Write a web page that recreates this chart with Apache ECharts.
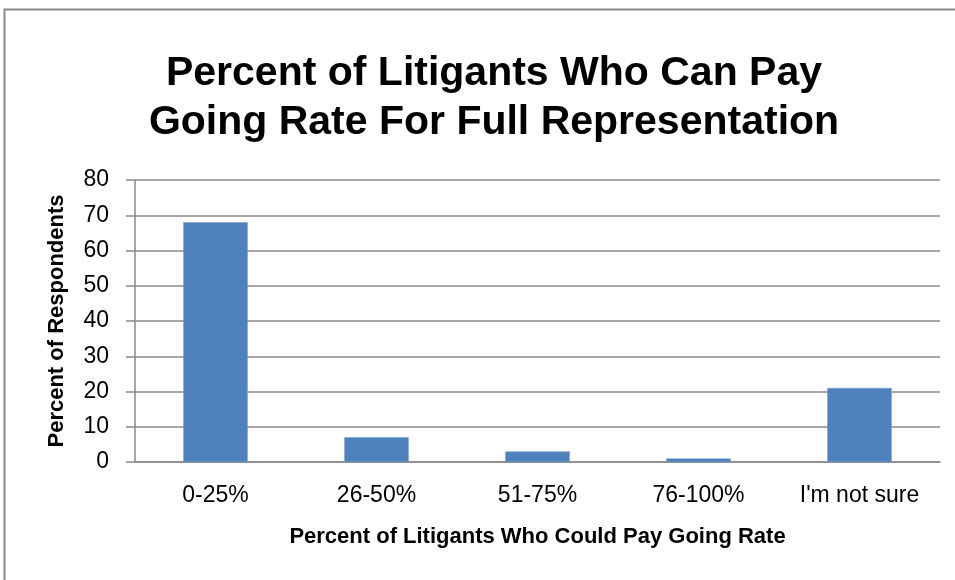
<!DOCTYPE html>
<html><head><meta charset="utf-8">
<script src="https://cdn.jsdelivr.net/npm/echarts@6/dist/echarts.min.js"></script>
<style>html,body{margin:0;padding:0;background:#fff;}#c{width:955px;height:580px;}</style>
</head><body><div id="c"></div>
<script>
const categories = ['0-25%', '26-50%', '51-75%', '76-100%', "I'm not sure"];
const values = [68, 7, 3, 1, 21];
const yTicks = [0, 10, 20, 30, 40, 50, 60, 70, 80];
const titleText = 'Percent of Litigants Who Can Pay\nGoing Rate For Full Representation';
const xName = 'Percent of Litigants Who Could Pay Going Rate';
const yName = 'Percent of Respondents';

const chart = echarts.init(document.getElementById('c'), null, {renderer: 'canvas'});
const F = 'Liberation Sans, Arial, sans-serif';
chart.setOption({
  animation: false,
  backgroundColor: '#fff',
  graphic: [{
    type: 'rect', left: 2, top: 7, shape: {x: 0, y: 0, width: 1000, height: 620},
    style: {fill: 'none', stroke: '#8a8a8a', lineWidth: 2}
  }],
  title: {
    text: titleText, left: 489, top: 44, textAlign: 'center',
    textStyle: {fontFamily: F, fontWeight: 'bold', fontSize: 41, lineHeight: 49, color: '#000'}
  },
  grid: {left: 135, right: 15, top: 180, bottom: 118, containLabel: false},
  xAxis: {
    type: 'category', data: categories,
    name: xName, nameLocation: 'middle', nameGap: 64,
    nameTextStyle: {fontFamily: F, fontWeight: 'bold', fontSize: 22, color: '#000'},
    axisLine: {lineStyle: {color: '#8a8a8a', width: 1.5}},
    axisTick: {show: false},
    axisLabel: {fontFamily: F, fontSize: 23, color: '#000', margin: 22}
  },
  yAxis: {
    type: 'value', min: 0, max: 80, interval: 10,
    name: yName, nameLocation: 'middle', nameGap: 67, nameRotate: 90,
    nameTextStyle: {fontFamily: F, fontWeight: 'bold', fontSize: 22, color: '#000'},
    axisLine: {show: true, lineStyle: {color: '#8a8a8a', width: 1.5}},
    axisTick: {show: true, length: 9, inside: false, lineStyle: {color: '#8a8a8a', width: 1.5}},
    splitLine: {show: true, lineStyle: {color: '#8a8a8a', width: 1.5}},
    axisLabel: {fontFamily: F, fontSize: 23, color: '#000', margin: 26,
      formatter: v => yTicks.includes(v) ? String(v) : ''}
  },
  series: [{
    type: 'bar', data: values, barWidth: '40%',
    itemStyle: {color: '#4F81BD', borderColor: '#6f9ad0', borderWidth: 0.5}
  }]
});
</script></body></html>
